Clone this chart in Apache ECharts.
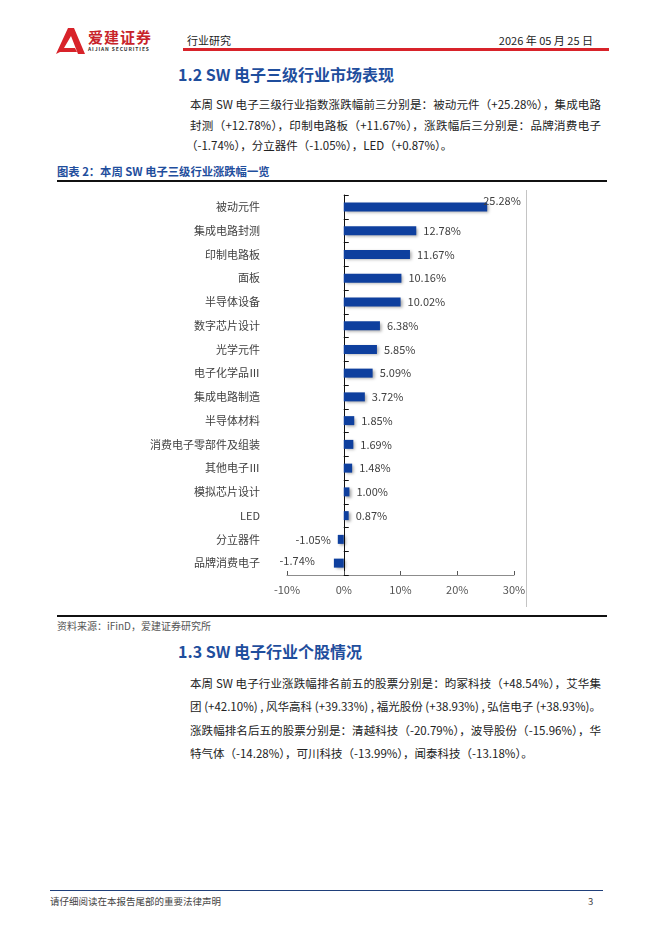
<!DOCTYPE html>
<html><head><meta charset="utf-8">
<script src="https://cdn.jsdelivr.net/npm/echarts@6/dist/echarts.min.js"></script>
<style>
html,body{margin:0;padding:0;background:#fff;}
body{width:662px;height:936px;position:relative;overflow:hidden;font-family:"Noto Sans CJK SC","Noto Sans",sans-serif;color:#222;}
.abs{position:absolute;white-space:nowrap;}
.jl{position:absolute;text-align:justify;text-align-last:justify;white-space:normal;}
.blue{color:#1f4e9d;font-weight:bold;}
#chart{position:absolute;left:0;top:0;width:662px;height:936px;}
</style></head>
<body>
<svg class="abs" style="left:55px;top:28px" width="30" height="26" viewBox="0 0 30 26">
  <polygon points="13,0 19,0 30,26 23,26 16,8 9,20 20,20 22,24 5,24 1,26 " fill="#d8232a"/>
</svg>
<div class="abs" style="left:88px;top:28px;font-size:15px;line-height:17px;font-weight:bold;color:#c8232a;letter-spacing:1px">爱建证券</div>
<div class="abs" style="left:88px;top:46px;font-size:5px;line-height:6px;color:#333;letter-spacing:0.9px;font-weight:bold">AIJIAN SECURITIES</div>
<div class="abs" style="left:187px;top:32px;font-size:11px;line-height:16px;color:#222">行业研究</div>
<div class="abs" style="right:69px;top:32px;font-size:11px;line-height:16px;color:#222">2026 年 05 月 25 日</div>
<div class="abs" style="left:183px;top:48px;width:426px;height:3px;background:#d8232a"></div>

<div class="abs blue" style="left:178px;top:63px;font-size:16px;line-height:22px">1.2 SW 电子三级行业市场表现</div>
<div class="jl" style="left:190px;top:94px;width:411px;font-size:11.5px;line-height:20px">本周 SW 电子三级行业指数涨跌幅前三分别是：被动元件（+25.28%），集成电路</div>
<div class="jl" style="left:190px;top:115px;width:411px;font-size:11.5px;line-height:20px">封测（+12.78%），印制电路板（+11.67%），涨跌幅后三分别是：品牌消费电子</div>
<div class="abs" style="left:186px;top:135px;font-size:11.5px;line-height:20px">（-1.74%），分立器件（-1.05%），LED（+0.87%）。</div>

<div class="abs blue" style="left:57px;top:163px;font-size:11.3px;line-height:16px">图表 2：本周 SW 电子三级行业涨跌幅一览</div>
<div class="abs" style="left:57px;top:180px;width:550px;height:1.5px;background:#111"></div>
<div class="abs" style="left:526px;top:190px;width:1px;height:417px;background:#c4c4c4"></div>
<div class="abs" style="left:57px;top:615px;width:550px;height:1.5px;background:#111"></div>
<div class="abs" style="left:57px;top:619px;font-size:10px;line-height:14px;color:#555">资料来源：iFinD，爱建证券研究所</div>

<div class="abs blue" style="left:178px;top:640px;font-size:16px;line-height:22px">1.3 SW 电子行业个股情况</div>
<div class="jl" style="left:190px;top:673px;width:411px;font-size:11.5px;line-height:20px">本周 SW 电子行业涨跌幅排名前五的股票分别是：昀冢科技（+48.54%），艾华集</div>
<div class="jl" style="left:190px;top:696px;width:411px;font-size:11.5px;line-height:20px">团 (+42.10%) , 风华高科 (+39.33%) , 福光股份 (+38.93%) , 弘信电子 (+38.93%)。</div>
<div class="jl" style="left:190px;top:720px;width:411px;font-size:11.5px;line-height:20px">涨跌幅排名后五的股票分别是：清越科技（-20.79%），波导股份（-15.96%），华</div>
<div class="abs" style="left:190px;top:743px;font-size:11.5px;line-height:20px">特气体（-14.28%），可川科技（-13.99%），闻泰科技（-13.18%）。</div>

<div class="abs" style="left:50px;top:890px;width:553px;height:1px;background:#1f3f7a"></div>
<div class="abs" style="left:50px;top:894px;font-size:9.5px;line-height:14px;color:#444">请仔细阅读在本报告尾部的重要法律声明</div>
<div class="abs" style="left:588px;top:894px;font-size:9.5px;line-height:14px;color:#444">3</div>

<div id="chart"></div>
<script>
const categories = ['被动元件','集成电路封测','印制电路板','面板','半导体设备','数字芯片设计','光学元件','电子化学品Ⅲ','集成电路制造','半导体材料','消费电子零部件及组装','其他电子Ⅲ','模拟芯片设计','LED','分立器件','品牌消费电子'];
const changes = [25.28,12.78,11.67,10.16,10.02,6.38,5.85,5.09,3.72,1.85,1.69,1.48,1.00,0.87,-1.05,-1.74];
const xTicks = {min:-10, max:30, interval:10};

const labelShift = {0:[-11,-6], 15:[-12,-2]};
const chart = echarts.init(document.getElementById('chart'), null, {renderer:'canvas'});
const seriesData = changes.map((v,i)=>{
  const lab = {position: v<0 ? 'left' : 'right'};
  if (labelShift[i]) lab.offset = labelShift[i];
  return {value:v, label:lab};
});
chart.setOption({
  animation:false,
  backgroundColor:'transparent',
  textStyle:{fontFamily:'"Noto Sans CJK SC","Noto Sans",sans-serif'},
  grid:{left:287, right:148, top:195, bottom:361, containLabel:false},
  xAxis:{type:'value', min:xTicks.min, max:xTicks.max, interval:xTicks.interval,
    axisLine:{show:true, onZero:false, lineStyle:{color:'#8c8c8c', width:1}},
    axisTick:{show:true, inside:true, length:4, lineStyle:{color:'#555'}},
    axisLabel:{formatter:'{value}%', color:'#555', fontSize:11, margin:9},
    splitLine:{show:false}},
  yAxis:{type:'category', inverse:true, data:categories,
    axisLine:{show:true, onZero:true, lineStyle:{color:'#111', width:1}},
    axisTick:{show:true, inside:true, length:5, lineStyle:{color:'#111'}},
    axisLabel:{color:'#404040', fontSize:11, margin:27},
    splitLine:{show:false}},
  series:[{type:'bar', data:seriesData, barWidth:9,
    itemStyle:{color:'#0e3f9e', shadowBlur:3, shadowColor:'rgba(0,0,0,0.35)', shadowOffsetX:2, shadowOffsetY:1.5},
    label:{show:true, distance:7, color:'#404040', fontSize:11,
      formatter:p=>p.value.toFixed(2)+'%'}}]
});
</script>
</body></html>
